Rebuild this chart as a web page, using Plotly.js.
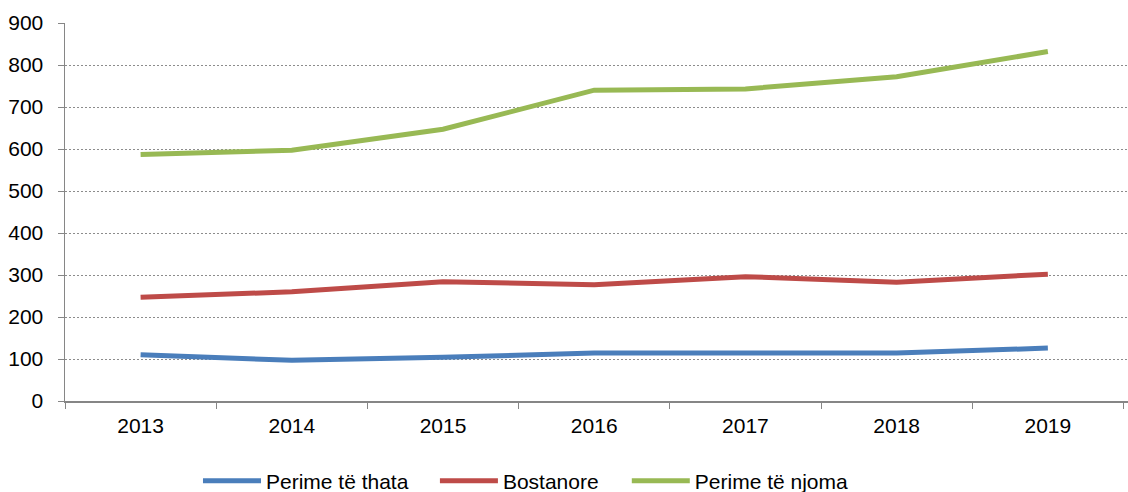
<!DOCTYPE html>
<html>
<head>
<meta charset="utf-8">
<script src="https://cdn.plot.ly/plotly-3.0.1.min.js"></script>
<style>html,body{margin:0;padding:0;background:#fff;}#chart{width:1128px;height:492px;}</style>
</head>
<body>
<div id="chart"></div>
<script>
const years = ["2013","2014","2015","2016","2017","2018","2019"];
const perimeThata = [110, 97, 104, 114, 114, 114, 126];
const bostanore = [247, 260, 284, 277, 296, 283, 302];
const perimeNjoma = [587, 597, 647, 740, 743, 772, 832];
const seriesNames = ["Perime të thata", "Bostanore", "Perime të njoma"];
const seriesColors = ["#4a7ebb", "#be4b48", "#98b954"];
const yTicks = [0,100,200,300,400,500,600,700,800,900];

const legendIds = ["legend", "legend2", "legend3"];
const legendX = [0.1251, 0.348, 0.5285];

const allData = [perimeThata, bostanore, perimeNjoma];
const traces = allData.map((vals, i) => ({
  x: years, y: vals, type: "scatter", mode: "lines", name: seriesNames[i],
  legend: legendIds[i],
  line: {color: seriesColors[i], width: 5}
}));

const layout = {
  width: 1128, height: 492,
  margin: {l: 65, r: 0, t: 23, b: 91, autoexpand: false},
  paper_bgcolor: "#fff", plot_bgcolor: "#fff",
  font: {family: "Liberation Sans, Arial, sans-serif", size: 21, color: "#000"},
  showlegend: true,
  xaxis: {type: "category", range: [-0.5, 6.53], showgrid: false, zeroline: false,
          showline: true, linecolor: "#868686", linewidth: 1.5,
          ticks: "outside", tickson: "boundaries", ticklen: 6, tickcolor: "#868686",
          ticklabelstandoff: 5,
          tickfont: {size: 21}, fixedrange: true},
  yaxis: {range: [0, 900], tickvals: yTicks, ticktext: yTicks.map(String),
          showgrid: true, gridcolor: "#8c8c8c", griddash: "2px,2px", gridwidth: 1,
          zeroline: false, showline: true, linecolor: "#868686", linewidth: 1.5,
          ticks: "outside", ticklen: 6, tickcolor: "#868686", ticklabelstandoff: 10,
          tickfont: {size: 21}, fixedrange: true}
};
legendIds.forEach((id, i) => {
  layout[id] = {orientation: "h", x: legendX[i], xanchor: "left", y: -0.212, yanchor: "middle",
                font: {size: 21}, itemwidth: 58, bgcolor: "rgba(0,0,0,0)"};
});
Plotly.newPlot("chart", traces, layout, {displayModeBar: false, staticPlot: true});
</script>
</body>
</html>
